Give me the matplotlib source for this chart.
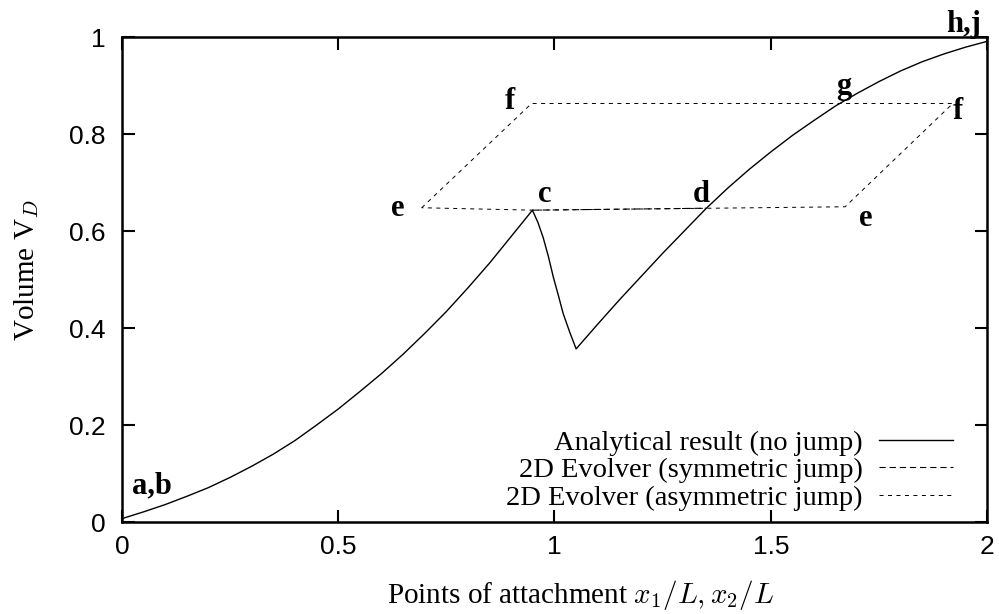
import matplotlib
matplotlib.use("Agg")
import matplotlib.pyplot as plt

plt.rcParams['mathtext.fontset'] = 'cm'
plt.rcParams['lines.scale_dashes'] = False

# Analytical result (no jump): rise to c, drop, rise through d and g to h,j
ana_x = [0.00, 0.05, 0.10, 0.15, 0.20, 0.25, 0.30, 0.35, 0.40, 0.45, 0.50,
         0.55, 0.60, 0.65, 0.70, 0.75, 0.80, 0.85, 0.90, 0.949,
         0.962, 0.974, 0.986, 0.997, 1.009, 1.020, 1.035, 1.050,
         1.10, 1.15, 1.20, 1.25, 1.30, 1.35, 1.40, 1.45, 1.50, 1.55, 1.60,
         1.65, 1.70, 1.75, 1.80, 1.85, 1.90, 1.95, 2.00]
ana_y = [0.007, 0.021, 0.036, 0.053, 0.071, 0.092, 0.115, 0.140, 0.168, 0.200, 0.233,
         0.269, 0.306, 0.346, 0.389, 0.434, 0.483, 0.534, 0.589, 0.643,
         0.617, 0.586, 0.547, 0.506, 0.467, 0.430, 0.392, 0.357,
         0.408, 0.458, 0.506, 0.554, 0.600, 0.646, 0.688, 0.727, 0.763, 0.797, 0.828,
         0.858, 0.884, 0.908, 0.930, 0.949, 0.965, 0.979, 0.991]

# 2D Evolver (symmetric jump): c -> d
sym_x = [0.949, 1.350]
sym_y = [0.643, 0.647]

# 2D Evolver (asymmetric jump): e -> f -> f -> e -> c -> e
asym_x = [0.693, 0.947, 1.921, 1.672, 0.949, 0.693]
asym_y = [0.648, 0.863, 0.863, 0.650, 0.643, 0.648]

point_labels = ['a,b', 'c', 'd', 'e', 'e', 'f', 'f', 'g', 'h,j']
label_x = [0.069, 0.977, 1.340, 0.638, 1.719, 0.897, 1.932, 1.669, 1.946]
label_y = [0.059, 0.659, 0.659, 0.632, 0.611, 0.852, 0.831, 0.883, 1.010]

fig = plt.figure(figsize=(9.99, 6.14), dpi=100)
ax = fig.add_axes([0.1221, 0.1498, 0.8659, 0.7899])

ax.plot(ana_x, ana_y, color='black', lw=1.0, label='Analytical result (no jump)')
ax.plot(sym_x, sym_y, color='black', lw=0.8, dashes=(4.5, 2.8),
        label='2D Evolver (symmetric jump)')
ax.plot(asym_x, asym_y, color='black', lw=0.7, dashes=(2.9, 3.2),
        label='2D Evolver (asymmetric jump)')

for t, x, y in zip(point_labels, label_x, label_y):
    ax.text(x, y, t, fontsize=22, fontweight='bold', family='Liberation Serif',
            ha='center', va='baseline', clip_on=False)

ax.set_xlim(0, 2)
ax.set_ylim(0, 1)
ax.set_xticks([0, 0.5, 1, 1.5, 2])
ax.set_xticklabels(['0', '0.5', '1', '1.5', '2'])
ax.set_yticks([0, 0.2, 0.4, 0.6, 0.8, 1])
ax.set_yticklabels(['0', '0.2', '0.4', '0.6', '0.8', '1'])
ax.tick_params(direction='in', length=9, width=1.5, top=True, right=True,
               labelsize=19)
ax.tick_params(axis='y', pad=12)
ax.tick_params(axis='x', pad=9)
for lab in ax.get_xticklabels() + ax.get_yticklabels():
    lab.set_family('Liberation Sans')
for s in ax.spines.values():
    s.set_linewidth(1.8)

ax.set_xlabel(r'Points of attachment $x_1/L, x_2/L$', family='Liberation Serif',
              fontsize=21)
ax.xaxis.set_label_coords(0.53, -0.115)
ax.set_ylabel(r'Volume V$_D$', family='Liberation Serif', fontsize=21)
ax.yaxis.set_label_coords(-0.094, 0.52)

leg = ax.legend(loc='lower right', bbox_to_anchor=(0.98, -0.012), frameon=False,
                markerfirst=False, handlelength=2.6, handletextpad=0.55,
                labelspacing=0.05, borderaxespad=0.2,
                prop={'family': 'Liberation Serif', 'size': 20.5})
for t in leg.get_texts():
    t.set_ha('right')
leg._legend_box.align = 'right'

fig.savefig('out.png', dpi=100)
